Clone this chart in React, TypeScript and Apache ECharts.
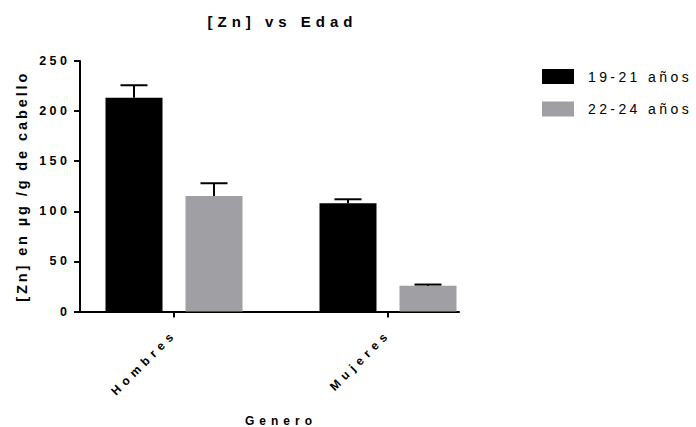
import React, { useEffect, useRef } from 'react';
import * as echarts from 'echarts';

const titleText = '[Zn] vs Edad';
const categories = ['Hombres', 'Mujeres'];
const seriesNames = ['19-21 años', '22-24 años'];
const mean1921 = [213.4, 108];
const sem1921 = [12.4, 4];
const mean2224 = [115.3, 25.7];
const sem2224 = [12.7, 1.2];
const yMin = 0;
const yMax = 250;
const yInterval = 50;
const xName = 'Genero';
const yName = '[Zn] en µg /g de cabello';

const FONT = 'Liberation Sans';

export default function App() {
  const ref = useRef<HTMLDivElement>(null);
  useEffect(() => {
    const chart = echarts.init(ref.current!, null, { renderer: 'svg' });
    const barW = 57;
    const gap = 23;
    const offsets = [-(barW + gap) / 2, (barW + gap) / 2];
    const makeRender = (si: number) => (params: any, api: any) => {
      const ci = api.value(0);
      const top = api.coord([ci, api.value(2)]);
      const base = api.coord([ci, api.value(1)]);
      const x = top[0] + offsets[si];
      const capHalf = 13.5;
      return {
        type: 'group',
        children: [
          { type: 'line', shape: { x1: x, y1: base[1], x2: x, y2: top[1] }, style: { stroke: '#000', lineWidth: 2 } },
          { type: 'line', shape: { x1: x - capHalf, y1: top[1], x2: x + capHalf, y2: top[1] }, style: { stroke: '#000', lineWidth: 2 } },
        ],
      };
    };
    const errData = (means: number[], sems: number[]) => means.map((m, i) => [i, m, m + sems[i]]);

    chart.setOption({
      animation: false,
      title: {
        text: titleText,
        left: 277.5,
        top: 9,
        textAlign: 'center',
        textStyle: { fontFamily: FONT, fontWeight: 'bold', fontSize: 15, color: '#000' },
      },
      legend: {
        orient: 'vertical',
        left: 542,
        top: 69,
        padding: 0,
        itemWidth: 32,
        itemHeight: 15,
        itemGap: 17.5,
        icon: 'rect',
        data: seriesNames,
        textStyle: { fontFamily: FONT, fontSize: 14, color: '#000', padding: [0, 0, 0, 9] },
      },
      grid: [
        { left: 67, right: 201, top: 61, bottom: 115.5, outerBoundsMode: 'none', containLabel: false },
        { left: 80, right: 237, top: 61, bottom: 115.5, outerBoundsMode: 'none', containLabel: false },
      ],
      xAxis: [
        {
          type: 'category',
          gridIndex: 0,
          data: categories,
          axisLine: { show: false },
          axisTick: { show: true, alignWithLabel: true, length: 6, lineStyle: { color: '#000', width: 2 } },
          axisLabel: {
            rotate: 45,
            margin: 21,
            padding: [0, -1, 0, 0],
            fontFamily: FONT,
            fontWeight: 'bold',
            fontSize: 12,
            color: '#000',
          },
          name: xName,
          nameLocation: 'middle',
          nameGap: 103,
          nameTextStyle: { fontFamily: FONT, fontWeight: 'bold', fontSize: 12, color: '#000' },
        },
        {
          type: 'value',
          gridIndex: 1,
          min: 0,
          max: 1,
          axisLine: { show: true, lineStyle: { color: '#000', width: 2 } },
          axisTick: { show: false },
          axisLabel: { show: false },
          splitLine: { show: false },
        },
      ],
      yAxis: [
        { type: 'value', gridIndex: 0, min: yMin, max: yMax, interval: yInterval, show: false },
        {
          type: 'value',
          gridIndex: 1,
          min: yMin,
          max: yMax,
          interval: yInterval,
          axisLine: { show: true, lineStyle: { color: '#000', width: 2 } },
          axisTick: { show: true, length: 6, lineStyle: { color: '#000', width: 2 } },
          axisLabel: { margin: 9.5, fontFamily: FONT, fontWeight: 'bold', fontSize: 12.5, color: '#000' },
          splitLine: { show: false },
          name: yName,
          nameLocation: 'middle',
          nameGap: 51,
          nameTextStyle: { fontFamily: FONT, fontWeight: 'bold', fontSize: 14.5, color: '#000' },
        },
      ],
      series: [
        {
          type: 'bar',
          name: seriesNames[0],
          xAxisIndex: 0,
          yAxisIndex: 0,
          data: mean1921,
          barWidth: barW,
          barGap: (gap / barW) * 100 + '%',
          itemStyle: { color: '#000000' },
        },
        {
          type: 'bar',
          name: seriesNames[1],
          xAxisIndex: 0,
          yAxisIndex: 0,
          data: mean2224,
          barWidth: barW,
          barGap: (gap / barW) * 100 + '%',
          itemStyle: { color: '#a09fa4' },
        },
        {
          type: 'custom',
          xAxisIndex: 0,
          yAxisIndex: 0,
          data: errData(mean1921, sem1921),
          renderItem: makeRender(0),
          z: 5,
        },
        {
          type: 'custom',
          xAxisIndex: 0,
          yAxisIndex: 0,
          data: errData(mean2224, sem2224),
          renderItem: makeRender(1),
          z: 5,
        },
      ],
    });
    return () => chart.dispose();
  }, []);
  return (
    <>
      <style>{`
        .zc text[style*="15px"] { letter-spacing: 5px; }
        .zc text[style*="14px"] { letter-spacing: 3.4px; }
        .zc text[style*="14.5px"] { letter-spacing: 2.9px; }
        .zc text[style*="12.5px"] { letter-spacing: 3.5px; }
        .zc text[style*="12px"] { letter-spacing: 5px; }
      `}</style>
      <div
        ref={ref}
        className="zc"
        style={{ position: 'fixed', left: 0, top: 0, width: 696, height: 427, background: '#fff' }}
      />
    </>
  );
}
